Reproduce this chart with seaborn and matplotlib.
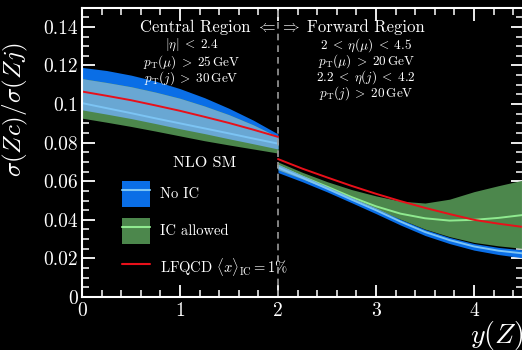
import numpy as np
import pandas as pd
import matplotlib
matplotlib.use('Agg')
import matplotlib.pyplot as plt
import seaborn as sns
from matplotlib.patches import Patch
from matplotlib.lines import Line2D
from matplotlib.ticker import MultipleLocator, FuncFormatter

# - data - #
# central region, y(Z) < 2
x_c        = [0.0, 0.25, 0.5, 0.75, 1.0, 1.25, 1.5, 1.75, 2.0]
noic_hi_c  = [0.1190, 0.1174, 0.1150, 0.1119, 0.1080, 0.1033, 0.0978, 0.0916, 0.0845]
noic_mid_c = [0.1005, 0.0979, 0.0953, 0.0926, 0.0900, 0.0874, 0.0848, 0.0821, 0.0795]
noic_lo_c  = [0.0970, 0.0948, 0.0925, 0.0899, 0.0872, 0.0847, 0.0820, 0.0794, 0.0767]
ic_hi_c    = [0.1132, 0.1112, 0.1090, 0.1062, 0.1030, 0.0990, 0.0945, 0.0892, 0.0830]
ic_mid_c   = [0.1030, 0.1008, 0.0985, 0.0958, 0.0930, 0.0900, 0.0870, 0.0832, 0.0790]
ic_lo_c    = [0.0927, 0.0906, 0.0884, 0.0860, 0.0835, 0.0810, 0.0788, 0.0767, 0.0746]
lfqcd_c    = [0.1065, 0.1043, 0.1020, 0.0993, 0.0965, 0.0934, 0.0902, 0.0867, 0.0830]

# forward region, y(Z) > 2
x_f        = [2.0, 2.25, 2.5, 2.75, 3.0, 3.25, 3.5, 3.75, 4.0, 4.25, 4.5]
noic_hi_f  = [0.0688, 0.0630, 0.0573, 0.0516, 0.0462, 0.0403, 0.0350, 0.0309, 0.0277, 0.0257, 0.0244]
noic_mid_f = [0.0672, 0.0618, 0.0562, 0.0505, 0.0450, 0.0391, 0.0337, 0.0295, 0.0262, 0.0240, 0.0226]
noic_lo_f  = [0.0645, 0.0597, 0.0545, 0.0489, 0.0432, 0.0373, 0.0319, 0.0277, 0.0243, 0.0220, 0.0203]
ic_hi_f    = [0.0700, 0.0646, 0.0598, 0.0557, 0.0524, 0.0497, 0.0487, 0.0507, 0.0546, 0.0577, 0.0606]
ic_mid_f   = [0.0680, 0.0624, 0.0572, 0.0518, 0.0470, 0.0432, 0.0408, 0.0396, 0.0400, 0.0410, 0.0425]
ic_lo_f    = [0.0660, 0.0612, 0.0562, 0.0510, 0.0458, 0.0403, 0.0352, 0.0313, 0.0283, 0.0265, 0.0252]
lfqcd_f    = [0.0715, 0.0665, 0.0620, 0.0576, 0.0535, 0.0497, 0.0462, 0.0430, 0.0400, 0.0380, 0.0363]

# colours
c_blue, c_blue_line = '#0a6ee6', '#7cc4f4'
c_green, c_green_line = '#4c874c', '#8fea8f'
c_overlap = '#69a7d3'
c_red = '#e8101a'

sns.set_theme(style='ticks')
plt.rcParams['font.family'] = ['cmr10', 'DejaVu Serif']
plt.rcParams['mathtext.fontset'] = 'cm'
plt.rcParams['axes.formatter.use_mathtext'] = True

fig = plt.figure(figsize=(5.22, 3.5), dpi=100, facecolor='black')
ax = fig.add_axes([82/522, 1-297/350, 441/522, 289.4/350])
ax.set_facecolor('black')

# long table for the central lines
rows = []
for region, xs, cols in [('central', x_c, {'noic': noic_mid_c, 'ic': ic_mid_c, 'lfqcd': lfqcd_c}),
                         ('forward', x_f, {'noic': noic_mid_f, 'ic': ic_mid_f, 'lfqcd': lfqcd_f})]:
    for name, vals in cols.items():
        for xv, yv in zip(xs, vals):
            rows.append({'x': xv, 'y': yv, 'series': name, 'region': region})
df = pd.DataFrame(rows)

# bands
for xs, nlo, nhi, ilo, ihi in [(x_c, noic_lo_c, noic_hi_c, ic_lo_c, ic_hi_c),
                               (x_f, noic_lo_f, noic_hi_f, ic_lo_f, ic_hi_f)]:
    xs = np.array(xs)
    ax.fill_between(xs, nlo, nhi, color=c_blue, lw=0, zorder=1)
    ax.fill_between(xs, ilo, ihi, color=c_green, lw=0, zorder=2)
    lo = np.maximum(nlo, ilo)
    hi = np.minimum(nhi, ihi)
    ax.fill_between(xs, lo, hi, where=hi > lo, interpolate=True, color=c_overlap, lw=0, zorder=3)

sns.lineplot(data=df[df.series == 'ic'], x='x', y='y', units='region', estimator=None,
             color=c_green_line, lw=1.4, ax=ax, zorder=2.5, legend=False)
sns.lineplot(data=df[df.series == 'noic'], x='x', y='y', units='region', estimator=None,
             color=c_blue_line, lw=1.4, ax=ax, zorder=4, legend=False)
sns.lineplot(data=df[df.series == 'lfqcd'], x='x', y='y', units='region', estimator=None,
             color=c_red, lw=1.4, ax=ax, zorder=5, legend=False)

ax.axvline(2, color='#9a9a9a', ls=(0, (4, 3)), lw=1.2, zorder=6)

ax.set_xlim(0, 4.5)
ax.set_ylim(0, 0.15)
ax.xaxis.set_major_locator(MultipleLocator(1))
ax.xaxis.set_minor_locator(MultipleLocator(0.2))
ax.yaxis.set_major_locator(MultipleLocator(0.02))
ax.yaxis.set_minor_locator(MultipleLocator(0.005))
ax.xaxis.set_major_formatter(FuncFormatter(lambda v, p: f'{v:g}'))
ax.yaxis.set_major_formatter(FuncFormatter(lambda v, p: f'{v:g}'))
ax.tick_params(which='both', direction='in', top=True, right=True, colors='white', labelsize=14, zorder=0.5)
ax.tick_params(which='major', length=9, width=1.3)
ax.tick_params(which='minor', length=5, width=1.1)
ax.tick_params(axis='x', pad=4)
ax.tick_params(axis='y', pad=3)
for s in ax.spines.values():
    s.set_color('white')
    s.set_linewidth(1.5)
    s.set_zorder(7)

ax.set_ylabel(r'$\sigma(Zc)/\sigma(Zj)$', color='white', fontsize=18)
ax.yaxis.set_label_coords(-0.118, 0.646)
ax.set_xlabel(r'$y(Z)$', color='white', fontsize=20, loc='right')
ax.xaxis.set_label_coords(1.0, -0.077)

# region annotations
tk = dict(color='white', ha='center', va='center', zorder=8)
ax.text(1.16, 0.1399, 'Central Region', fontsize=12, **tk)
ax.text(1.88, 0.1399, r'$\Leftarrow$', fontsize=12, **tk)
ax.text(2.13, 0.1399, r'$\Rightarrow$', fontsize=12, **tk)
ax.text(2.90, 0.1399, 'Forward Region', fontsize=12, **tk)
ax.text(1.12, 0.1305, r'$|\eta|\;<\;2.4$', fontsize=9.5, **tk)
ax.text(1.12, 0.1219, r'$p_{\rm T}(\mu)\;>\;25\,{\rm GeV}$', fontsize=9.5, **tk)
ax.text(1.12, 0.1136, r'$p_{\rm T}(j)\;>\;30\,{\rm GeV}$', fontsize=9.5, **tk)
ax.text(2.90, 0.1305, r'$2\;<\;\eta(\mu)\;<\;4.5$', fontsize=9.5, **tk)
ax.text(2.90, 0.1224, r'$p_{\rm T}(\mu)\;>\;20\,{\rm GeV}$', fontsize=9.5, **tk)
ax.text(2.90, 0.1141, r'$2.2\;<\;\eta(j)\;<\;4.2$', fontsize=9.5, **tk)
ax.text(2.90, 0.1058, r'$p_{\rm T}(j)\;>\;20\,{\rm GeV}$', fontsize=9.5, **tk)

handles = [
    (Patch(facecolor=c_blue, edgecolor='none'), Line2D([], [], color=c_blue_line, lw=1.5)),
    (Patch(facecolor=c_green, edgecolor='none'), Line2D([], [], color=c_green_line, lw=1.5)),
    Line2D([], [], color=c_red, lw=1.5),
]
labels = ['No IC', 'IC allowed', r'LFQCD $\langle x\rangle_{\rm IC} = 1\%$']
leg = ax.legend(handles, labels, title='NLO SM', loc='upper left', bbox_to_anchor=(0.0907, 0.487),
                frameon=False, fontsize=10.5, title_fontsize=11.5, handlelength=1.92,
                handleheight=2.36, labelspacing=0.76, handletextpad=0.68, borderpad=0,
                borderaxespad=0)
for t in leg.get_texts():
    t.set_color('white')
leg.get_title().set_color('white')

fig.savefig('out.png', dpi=100, facecolor='black')
